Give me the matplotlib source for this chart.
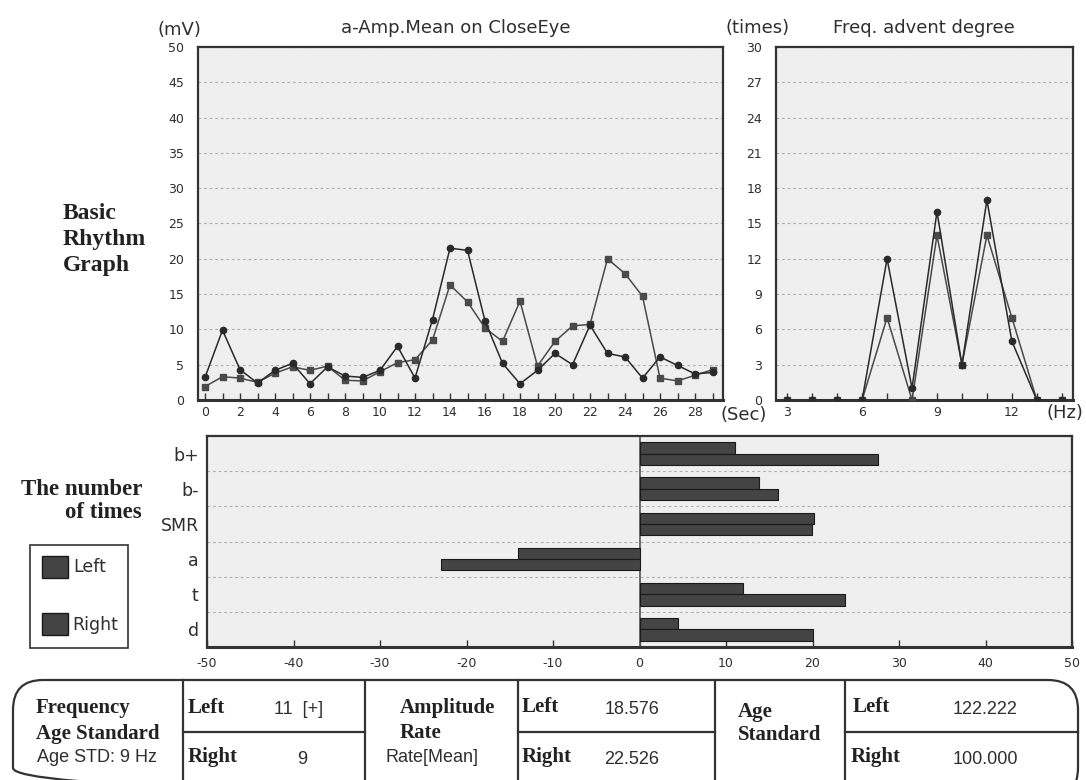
import matplotlib
matplotlib.use("Agg")
import matplotlib.pyplot as plt
from matplotlib.patches import FancyBboxPatch, Rectangle
from matplotlib.ticker import MultipleLocator, FixedLocator

plt.rcParams['axes.unicode_minus'] = False

# ---------------- data ----------------
sec = list(range(30))
amp_circle = [3.2, 9.9, 4.3, 2.4, 4.2, 5.2, 2.3, 4.7, 3.4, 3.2, 4.2, 7.6, 3.1, 11.4, 21.5,
              21.2, 11.2, 5.2, 2.3, 4.2, 6.6, 5.0, 10.6, 6.6, 6.1, 3.1, 6.1, 4.9, 3.7, 3.9]
amp_square = [1.9, 3.3, 3.1, 2.5, 3.8, 4.7, 4.2, 4.8, 2.8, 2.7, 4.0, 5.3, 5.7, 8.5, 16.3,
              13.9, 10.2, 8.3, 14.0, 4.8, 8.3, 10.5, 10.7, 20.0, 17.9, 14.7, 3.1, 2.7, 3.5, 4.3]

hz = list(range(3, 15))
freq_circle = [0, 0, 0, 0, 12, 1, 16, 3, 17, 5, 0, 0]
freq_square = [0, 0, 0, 0, 7, 0, 14, 3, 14, 7, 0, 0]

cats = ['b+', 'b-', 'SMR', 'a', 't', 'd']
left_vals = [11.0, 13.8, 20.2, -14.0, 12.0, 4.4]
right_vals = [27.6, 16.0, 19.9, -23.0, 23.7, 20.0]

freq_left = "11  [+]"
freq_right = "9"
age_std_label = "Age STD: 9 Hz"
amp_left = "18.576"
amp_right = "22.526"
agestd_left = "122.222"
agestd_right = "100.000"

# ---------------- figure ----------------
W, H = 1086, 780
fig = plt.figure(figsize=(W / 100, H / 100), dpi=100)
fig.patch.set_facecolor('white')

bg = fig.add_axes([0, 0, 1, 1])
bg.set_xlim(0, W)
bg.set_ylim(H, 0)
bg.axis('off')

def fa(x0, y0, x1, y1):
    return [x0 / W, 1 - y1 / H, (x1 - x0) / W, (y1 - y0) / H]

PANEL = '#efefef'
FRAME = '#333333'
GRID = '#b0b0b0'
TXT = '#2e2e2e'
SANS = 'DejaVu Sans'
SERIF = 'Liberation Serif'
TICK_FS = 9

def style_axes(ax):
    ax.set_facecolor(PANEL)
    for s in ax.spines.values():
        s.set_color(FRAME)
        s.set_linewidth(1.6)
    ax.spines['bottom'].set_linewidth(2.2)

# ---- top-left line chart ----
ax1 = fig.add_axes(fa(198, 47, 723, 400))
style_axes(ax1)
ax1.plot(sec, amp_square, marker='s', ms=4.5, color='#4a4a4a', lw=1.1, zorder=3)
ax1.plot(sec, amp_circle, marker='o', ms=4.5, color='#2a2a2a', lw=1.1, zorder=4)
ax1.set_xlim(-0.4, 29.6)
ax1.set_ylim(0, 50)
ax1.yaxis.set_major_locator(MultipleLocator(5))
ax1.xaxis.set_major_locator(FixedLocator(list(range(0, 29, 2))))
ax1.xaxis.set_minor_locator(MultipleLocator(1))
ax1.yaxis.grid(True, linestyle=(0, (2.5, 2.5)), color=GRID, lw=0.8)
ax1.set_axisbelow(True)
ax1.tick_params(axis='y', length=0, pad=10, labelsize=TICK_FS, labelcolor=TXT)
ax1.tick_params(axis='x', which='both', direction='in', color=FRAME, labelsize=TICK_FS,
                labelcolor=TXT, pad=4, length=5, width=1)

# ---- top-right line chart ----
ax2 = fig.add_axes(fa(776, 47, 1073, 400))
style_axes(ax2)
ax2.plot(hz, freq_square, marker='s', ms=4.5, color='#4a4a4a', lw=1.1, zorder=3)
ax2.plot(hz, freq_circle, marker='o', ms=4.5, color='#2a2a2a', lw=1.1, zorder=4)
ax2.set_xlim(2.55, 14.45)
ax2.set_ylim(0, 30)
ax2.yaxis.set_major_locator(MultipleLocator(3))
ax2.xaxis.set_major_locator(FixedLocator([3, 6, 9, 12]))
ax2.xaxis.set_minor_locator(MultipleLocator(1))
ax2.yaxis.grid(True, linestyle=(0, (2.5, 2.5)), color=GRID, lw=0.8)
ax2.set_axisbelow(True)
ax2.tick_params(axis='y', length=0, pad=10, labelsize=TICK_FS, labelcolor=TXT)
ax2.tick_params(axis='x', which='both', direction='in', color=FRAME, labelsize=TICK_FS,
                labelcolor=TXT, pad=4, length=5, width=1)

# ---- bar chart ----
ax3 = fig.add_axes(fa(207, 436, 1072, 647))
style_axes(ax3)
ypos = list(range(len(cats)))
hb = 0.32
ax3.barh([y - hb / 2 for y in ypos], left_vals, height=hb, color='#444444',
         edgecolor='#1a1a1a', lw=0.8, zorder=3)
ax3.barh([y + hb / 2 for y in ypos], right_vals, height=hb, color='#444444',
         edgecolor='#1a1a1a', lw=0.8, zorder=3)
ax3.axvline(0, color='#555555', lw=1.2, zorder=2)
ax3.set_xlim(-50, 50)
ax3.set_ylim(len(cats) - 0.5, -0.5)
ax3.set_yticks(ypos)
ax3.set_yticklabels(cats)
ax3.yaxis.set_minor_locator(FixedLocator([i + 0.5 for i in range(len(cats) - 1)]))
ax3.yaxis.grid(True, which='minor', linestyle=(0, (2.5, 2.5)), color=GRID, lw=0.8)
ax3.yaxis.grid(False, which='major')
ax3.set_axisbelow(True)
ax3.xaxis.set_major_locator(MultipleLocator(10))
ax3.tick_params(axis='y', which='both', length=0, pad=6, labelsize=12.5, labelcolor=TXT)
ax3.tick_params(axis='x', direction='in', length=5, width=1, color=FRAME,
                labelsize=TICK_FS, labelcolor=TXT, pad=7)

# ---------------- texts ----------------
bg.text(179, 30, "(mV)", fontsize=13, family=SANS, color=TXT, ha='center', va='center')
bg.text(456, 28, "a-Amp.Mean on CloseEye", fontsize=13, family=SANS, color=TXT,
        ha='center', va='center')
bg.text(758, 28, "(times)", fontsize=13, family=SANS, color=TXT, ha='center', va='center')
bg.text(924, 28, "Freq. advent degree", fontsize=13, family=SANS, color=TXT,
        ha='center', va='center')
bg.text(744, 415, "(Sec)", fontsize=13, family=SANS, color=TXT, ha='center', va='center')
bg.text(1065, 413, "(Hz)", fontsize=13, family=SANS, color=TXT, ha='center', va='center')

for txt, y in zip(["Basic", "Rhythm", "Graph"], [219, 245, 271]):
    bg.text(63, y, txt, fontsize=17, family=SERIF, weight='bold', color='#222222',
            ha='left', va='baseline')
bg.text(142, 495, "The number", fontsize=16.5, family=SERIF, weight='bold',
        color='#222222', ha='right', va='baseline')
bg.text(142, 518, "of times", fontsize=16.5, family=SERIF, weight='bold',
        color='#222222', ha='right', va='baseline')

# legend box
bg.add_patch(Rectangle((30, 545), 98, 103, fill=False, ec='#333333', lw=1.2))
bg.add_patch(Rectangle((42, 556), 26, 22, fc='#444444', ec='#1a1a1a', lw=1))
bg.add_patch(Rectangle((42, 613), 26, 22, fc='#444444', ec='#1a1a1a', lw=1))
bg.text(73, 567, "Left", fontsize=12.5, family=SANS, color=TXT, ha='left', va='center')
bg.text(72, 625, "Right", fontsize=12.5, family=SANS, color=TXT, ha='left', va='center')

# ---------------- table ----------------
LC = '#333333'
bg.add_patch(FancyBboxPatch((13, 680), 1065, 118,
                            boxstyle="round,pad=0,rounding_size=30",
                            fill=False, ec=LC, lw=1.6, clip_on=True))
for x in [183, 365, 518, 715, 845]:
    bg.plot([x, x], [680, 785], color=LC, lw=1.6)
for x0, x1 in [(183, 365), (518, 715), (845, 1078)]:
    bg.plot([x0, x1], [732, 732], color=LC, lw=1.6)

BS = dict(family=SERIF, weight='bold', color='#222222', fontsize=15, va='center')
SS = dict(family='Liberation Sans', color=TXT, fontsize=13, va='center')

bg.text(36, 708, "Frequency", ha='left', **BS)
bg.text(36, 734, "Age Standard", ha='left', **BS)
bg.text(97, 758, age_std_label, ha='center', **SS)

bg.text(188, 708, "Left", ha='left', **BS)
bg.text(299, 709, freq_left, ha='center', **SS)
bg.text(188, 757, "Right", ha='left', **BS)
bg.text(302, 759, freq_right, ha='center', **SS)

bg.text(400, 708, "Amplitude", ha='left', **BS)
bg.text(400, 733, "Rate", ha='left', **BS)
bg.text(432, 758, "Rate[Mean]", ha='center', **SS)

bg.text(522, 707, "Left", ha='left', **BS)
bg.text(632, 710, amp_left, ha='center', **SS)
bg.text(522, 757, "Right", ha='left', **BS)
bg.text(632, 760, amp_right, ha='center', **SS)

bg.text(738, 712, "Age", ha='left', **BS)
bg.text(738, 735, "Standard", ha='left', **BS)

bg.text(853, 707, "Left", ha='left', **BS)
bg.text(985, 710, agestd_left, ha='center', **SS)
bg.text(851, 757, "Right", ha='left', **BS)
bg.text(985, 760, agestd_right, ha='center', **SS)

fig.savefig("out.png", dpi=100, facecolor='white')
